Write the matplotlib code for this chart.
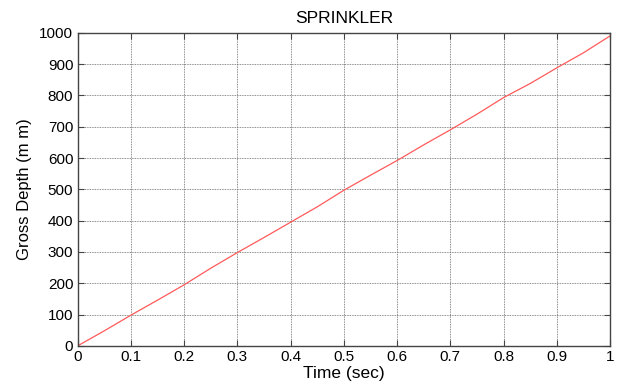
import matplotlib
matplotlib.use("Agg")
import matplotlib.pyplot as plt

# Gross depth applied by the sprinkler over time
time_sec = [0.0, 0.05, 0.10, 0.15, 0.20, 0.25, 0.30, 0.35, 0.40, 0.45, 0.50,
            0.55, 0.60, 0.65, 0.70, 0.75, 0.80, 0.85, 0.90, 0.95, 1.00]
gross_depth_mm = [0, 48, 98, 146, 195, 248, 298, 346, 395, 444, 497,
                  545, 592, 642, 690, 740, 793, 838, 888, 936, 990]

x_ticks = [0, 0.1, 0.2, 0.3, 0.4, 0.5, 0.6, 0.7, 0.8, 0.9, 1]
x_tick_labels = ["0", "0.1", "0.2", "0.3", "0.4", "0.5", "0.6", "0.7", "0.8", "0.9", "1"]
y_ticks = [0, 100, 200, 300, 400, 500, 600, 700, 800, 900, 1000]

plt.rcParams["font.family"] = ["Liberation Sans", "DejaVu Sans"]

fig = plt.figure(figsize=(6.2, 3.81), dpi=100)
ax = fig.add_axes([0.125, 0.092, 0.859, 0.822])

ax.plot(time_sec, gross_depth_mm, color="#ff5a5a", linewidth=0.9)

ax.set_xlim(0, 1)
ax.set_ylim(0, 1000)
ax.set_xticks(x_ticks)
ax.set_xticklabels(x_tick_labels)
ax.set_yticks(y_ticks)

ax.grid(True, color="#666666", linestyle=(0, (1, 1)), linewidth=0.6)
ax.tick_params(direction="in", length=4, width=0.8, color="#444444",
               top=True, right=True, labelsize=11, pad=3)
for spine in ax.spines.values():
    spine.set_color("#444444")
    spine.set_linewidth(1.0)

ax.set_title("SPRINKLER", fontsize=12.5, pad=7)
ax.set_xlabel("Time (sec)", fontsize=12.5, labelpad=1)
ax.set_ylabel("Gross Depth (m m)", fontsize=12, labelpad=5)

fig.savefig("out.png", dpi=100)
